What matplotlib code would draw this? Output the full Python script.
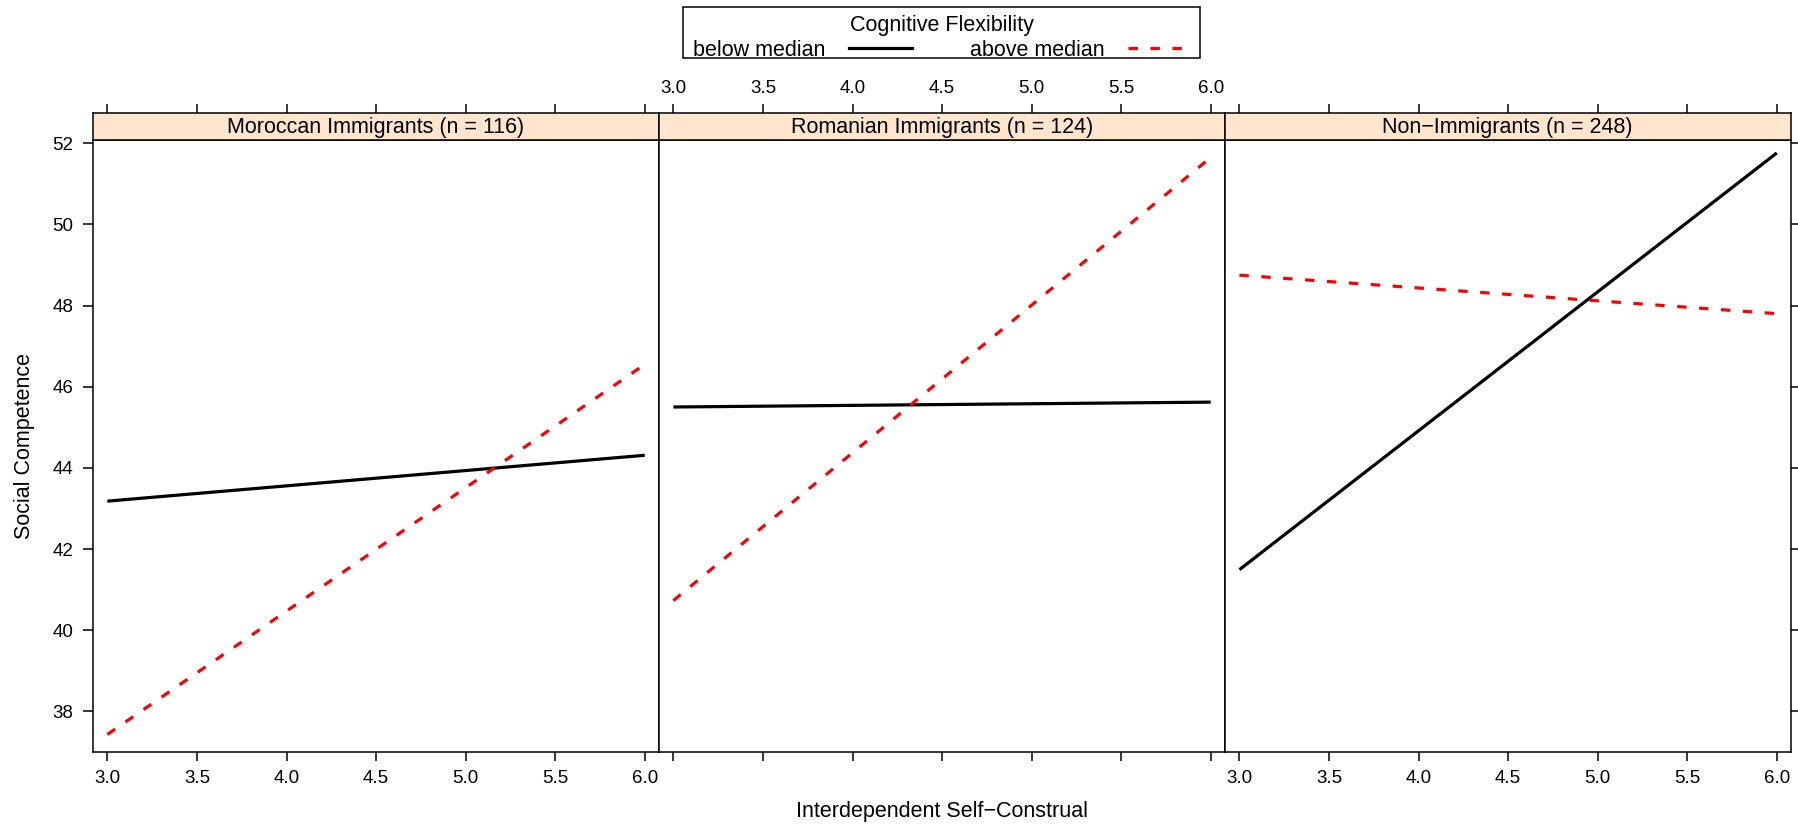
import matplotlib
matplotlib.use("Agg")
import matplotlib.pyplot as plt
from matplotlib.lines import Line2D
from matplotlib.patches import Rectangle

# ── data ────────────────────────────────────────────────────────────────────
panels = ["Moroccan Immigrants (n = 116)",
          "Romanian Immigrants (n = 124)",
          "Non\u2212Immigrants (n = 248)"]
x_range = [3.0, 6.0]
below_median = [[43.18, 44.31],
                [45.50, 45.62],
                [41.49, 51.76]]
above_median = [[37.43, 46.55],
                [40.73, 51.65],
                [48.75, 47.80]]
x_ticks = [3.0, 3.5, 4.0, 4.5, 5.0, 5.5, 6.0]
y_ticks = [38, 40, 42, 44, 46, 48, 50, 52]

# ── style ───────────────────────────────────────────────────────────────────
plt.rcParams["font.family"] = ["Liberation Sans", "DejaVu Sans"]
plt.rcParams["lines.scale_dashes"] = False
STRIP = "#FFE5CC"
FS = 15.5
TFS = 13.5
LW = 2.3
DASH = (0, (6.8, 9.0))
W, H = 1798, 827

fig = plt.figure(figsize=(W / 100, H / 100), dpi=100)

# layout in pixels
LEFT, RIGHT = 92.7, 1790.7
PW = (RIGHT - LEFT) / 3
P_TOP, P_BOT = 140.0, 752.3
S_TOP = 113.3

for i, name in enumerate(panels):
    x0 = LEFT + i * PW
    ax = fig.add_axes([x0 / W, 1 - P_BOT / H, PW / W, (P_BOT - P_TOP) / H])
    sx = fig.add_axes([x0 / W, 1 - P_TOP / H, PW / W, (P_TOP - S_TOP) / H])

    ax.plot(x_range, below_median[i], color="black", lw=LW, solid_capstyle="butt")
    ax.plot(x_range, above_median[i], color="red", lw=LW, linestyle=DASH)

    ax.set_xlim(2.918, 6.078)
    ax.set_ylim(36.99, 52.08)
    sx.set_xlim(2.918, 6.078)
    sx.set_ylim(0, 1)

    for a in (ax, sx):
        for sp in a.spines.values():
            sp.set_linewidth(1.1)
            sp.set_color("black")

    # bottom ticks: labels on panels 1 and 3 only
    ax.set_xticks(x_ticks)
    ax.set_xticklabels([f"{t:.1f}" for t in x_ticks])
    ax.tick_params(axis="x", direction="out", length=6.5, width=1.1,
                   labelsize=TFS, pad=6, labelbottom=(i != 1))
    # y ticks: left labels on panel 1, right ticks on panel 3
    ax.set_yticks(y_ticks)
    ax.tick_params(axis="y", direction="out", length=7, width=1.1,
                   labelsize=TFS, pad=7,
                   left=(i == 0), labelleft=(i == 0),
                   right=(i == 2), labelright=False)

    # strip with top ticks, labels on middle panel only
    sx.set_facecolor(STRIP)
    sx.set_yticks([])
    sx.set_xticks(x_ticks)
    sx.set_xticklabels([f"{t:.1f}" for t in x_ticks])
    sx.tick_params(axis="x", direction="out", length=6.5, width=1.1,
                   labelsize=TFS, pad=5, bottom=False, labelbottom=False,
                   top=True, labeltop=(i == 1))
    sx.text(0.5, 0.47, name, transform=sx.transAxes, ha="center",
            va="center", fontsize=FS)

# ── axis titles ─────────────────────────────────────────────────────────────
fig.text((LEFT + RIGHT) / 2 / W, 1 - 812 / H, "Interdependent Self\u2212Construal",
         ha="center", va="center", fontsize=FS)
fig.text(25 / W, 1 - 446 / H, "Social Competence", rotation=90,
         ha="center", va="center", fontsize=FS)

# ── legend (frame drawn separately, lattice style) ──────────────────────────
handles = [Line2D([], [], color="black", lw=LW),
           Line2D([], [], color="red", lw=LW, linestyle=DASH)]
leg = fig.legend(handles, ["below median", "above median"], ncol=2,
                 title="Cognitive Flexibility", title_fontsize=FS,
                 fontsize=FS, markerfirst=False, frameon=False,
                 loc="upper center",
                 bbox_to_anchor=((LEFT + RIGHT) / 2 / W, 1 - 14.5 / H),
                 handlelength=2.9, handletextpad=1.1, columnspacing=2.7,
                 borderpad=0, labelspacing=0.2, borderaxespad=0)
fig.patches.append(Rectangle((683 / W, 1 - 58 / H), (1200 - 683) / W, 51 / H,
                             transform=fig.transFigure, fill=False,
                             edgecolor="black", lw=1.1))

fig.savefig("out.png", dpi=100, facecolor="white")
